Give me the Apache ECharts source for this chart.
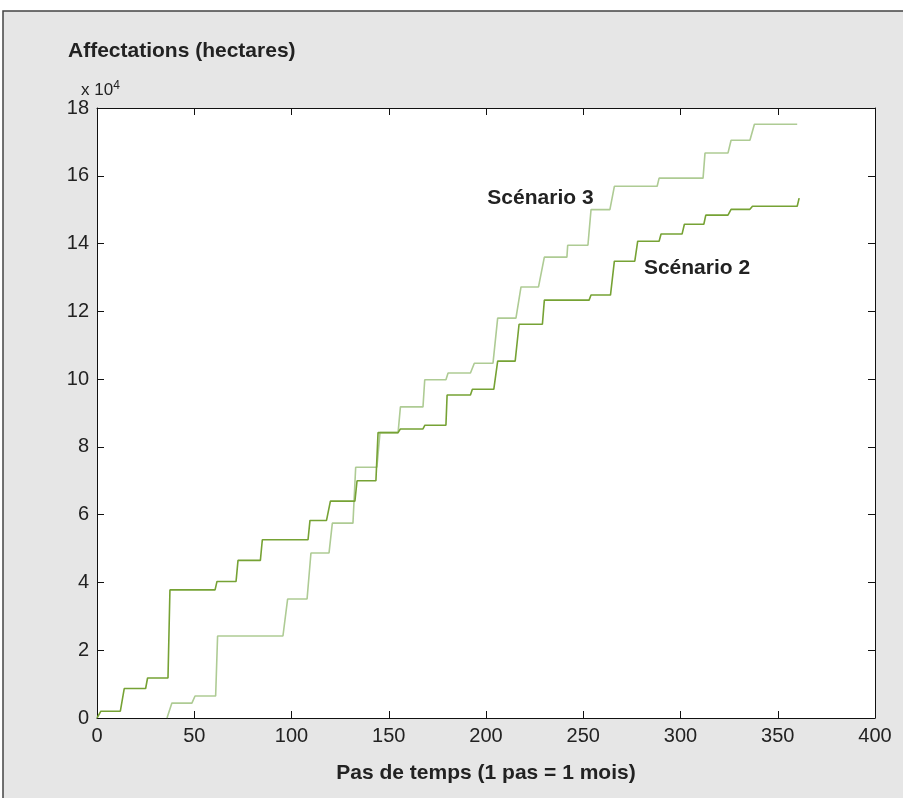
<!DOCTYPE html>
<html lang="fr">
<head>
    <meta charset="UTF-8">
    <title>Affectations (hectares)</title>
    <script src="https://cdn.jsdelivr.net/npm/echarts@6/dist/echarts.min.js"></script>
    <style>
        html, body { margin: 0; padding: 0; background: #fff; }
        #box { width: 903px; height: 798px; }
    </style>
</head>
<body>
<div id="box"></div>
<script>
    // données (valeurs en x 10^4 hectares)
    var xTicks = [0, 50, 100, 150, 200, 250, 300, 350, 400];
    var yTicks = [0, 2, 4, 6, 8, 10, 12, 14, 16, 18];

    var s2Name = 'Scénario 2';
    var s2Time = [0, 2, 12, 14, 25, 26, 36.5, 37.5, 60.7, 61.7, 71.5, 72.5, 84, 85, 108.5, 109.5, 118, 120,
        132.6, 133.7, 143.4, 144.5, 154.8, 156, 167.6, 168.6, 179.4, 180, 192, 193, 204, 206, 215, 217,
        229, 230, 253, 254, 264, 266, 276.5, 278, 289, 290, 300.8, 302, 312, 313, 324.4, 326, 335.7, 337, 360, 361];
    var s2Vals = [0, 0.2, 0.2, 0.87, 0.87, 1.18, 1.18, 3.78, 3.78, 4.03, 4.03, 4.65, 4.65, 5.26, 5.26, 5.83, 5.83, 6.4,
        6.4, 7.0, 7.0, 8.42, 8.42, 8.53, 8.53, 8.64, 8.64, 9.53, 9.53, 9.7, 9.7, 10.53, 10.53, 11.62,
        11.62, 12.33, 12.33, 12.48, 12.48, 13.48, 13.48, 14.07, 14.07, 14.28, 14.28, 14.57, 14.57, 14.84, 14.84, 15.01, 15.01, 15.1, 15.1, 15.34];

    var s3Name = 'Scénario 3';
    var s3Time = [36, 38.5, 48.8, 50.4, 61, 62, 95.6, 98, 108, 110, 119.3, 121, 131.6, 133, 143.9, 145.5, 154.8, 156,
        167.6, 168.5, 179.4, 180.5, 192, 194, 203.6, 206, 215.4, 218, 227, 230, 241.6, 242, 252.4, 254,
        263.7, 266, 288, 289, 311.6, 312.6, 324.4, 326, 335.7, 338, 360];
    var s3Vals = [0, 0.44, 0.44, 0.65, 0.65, 2.42, 2.42, 3.51, 3.51, 4.87, 4.87, 5.75, 5.75, 7.4, 7.4, 8.42, 8.42, 9.18,
        9.18, 9.98, 9.98, 10.18, 10.18, 10.47, 10.47, 11.8, 11.8, 12.72, 12.72, 13.6, 13.6, 13.95, 13.95, 15.0,
        15.0, 15.69, 15.69, 15.93, 15.93, 16.67, 16.67, 17.05, 17.05, 17.52, 17.52];

    // position des étiquettes dans les unités des axes
    var s2LabelAt = [308.5, 13.27];
    var s3LabelAt = [228, 15.34];

    function zip(a, b) {
        return a.map(function (v, i) { return [v, b[i]]; });
    }

    var font = '"Liberation Sans", Arial, sans-serif';
    var myChart = echarts.init(document.getElementById('box'));

    // axe commun (style MATLAB: graduations vers l'intérieur, boîte fermée)
    function axisBase(showLabel) {
        return {
            type: 'value',
            axisLine: { show: true, onZero: false, lineStyle: { color: '#111', width: 1 } },
            axisTick: { show: true, inside: true, length: 7, lineStyle: { color: '#111' } },
            splitLine: { show: false },
            axisLabel: { show: showLabel, color: '#222', fontSize: 20, fontFamily: font, margin: 8 }
        };
    }

    var xMain = Object.assign(axisBase(true), {
        min: xTicks[0], max: xTicks[xTicks.length - 1], interval: xTicks[1] - xTicks[0], position: 'bottom',
        name: 'Pas de temps (1 pas = 1 mois)', nameLocation: 'middle', nameGap: 45,
        nameTextStyle: { fontSize: 21, fontWeight: 'bold', color: '#222', fontFamily: font }
    });
    var xTop = Object.assign(axisBase(false), {
        min: xTicks[0], max: xTicks[xTicks.length - 1], interval: xTicks[1] - xTicks[0], position: 'top'
    });
    var yMain = Object.assign(axisBase(true), {
        min: yTicks[0], max: yTicks[yTicks.length - 1], interval: yTicks[1] - yTicks[0], position: 'left'
    });
    var yRight = Object.assign(axisBase(false), {
        min: yTicks[0], max: yTicks[yTicks.length - 1], interval: yTicks[1] - yTicks[0], position: 'right'
    });

    function labelPoint(coord, text) {
        return {
            symbol: 'circle',
            symbolSize: 1,
            silent: true,
            itemStyle: { color: 'rgba(0,0,0,0)' },
            data: [{ coord: coord }],
            label: {
                show: true, position: 'inside', formatter: text,
                fontSize: 21, fontWeight: 'bold', color: '#222', fontFamily: font
            }
        };
    }

    var option = {
        backgroundColor: '#fff',
        animation: false,
        graphic: [
            {
                type: 'rect', z: -10,
                shape: { x: 3, y: 11, width: 920, height: 800 },
                style: { fill: '#e6e6e6', stroke: '#444', lineWidth: 1.5 }
            },
            {
                type: 'text', left: 81, top: 80,
                style: {
                    text: '{a|x 10}{s|4}',
                    rich: {
                        a: { fontSize: 17, fontFamily: font, fill: '#222' },
                        s: { fontSize: 12, fontFamily: font, fill: '#222', verticalAlign: 'top', padding: [0, 0, 8, 0] }
                    }
                }
            }
        ],
        title: {
            text: 'Affectations (hectares)',
            left: 63, top: 36,
            textStyle: { fontSize: 21, fontWeight: 'bold', color: '#222', fontFamily: font }
        },
        grid: { left: 97, right: 28, top: 108, bottom: 80, show: true, backgroundColor: '#fff', borderWidth: 0 },
        xAxis: [xMain, xTop],
        yAxis: [yMain, yRight],
        series: [
            {
                name: s3Name, type: 'line', showSymbol: false, xAxisIndex: 0, yAxisIndex: 0,
                data: zip(s3Time, s3Vals),
                lineStyle: { color: '#aecb94', width: 1.6 },
                markPoint: labelPoint(s3LabelAt, s3Name)
            },
            {
                name: s2Name, type: 'line', showSymbol: false, xAxisIndex: 0, yAxisIndex: 0,
                data: zip(s2Time, s2Vals),
                lineStyle: { color: '#76a234', width: 1.6 },
                markPoint: labelPoint(s2LabelAt, s2Name)
            }
        ]
    };
    myChart.setOption(option);
</script>
</body>
</html>
